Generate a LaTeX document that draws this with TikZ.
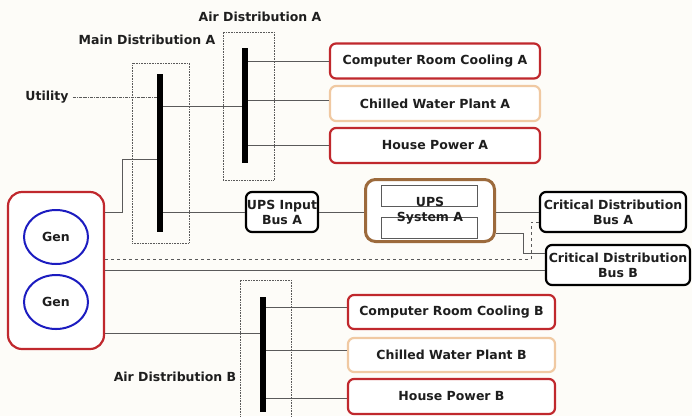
\documentclass[tikz,border=0pt]{standalone}
\usepackage{fontspec}
\setmainfont{DejaVu Sans}
\usepackage{xcolor}
\definecolor{cRed}{HTML}{C0282D}
\definecolor{cPeach}{HTML}{F0C9A2}
\definecolor{cBrown}{HTML}{9C6A3C}
\definecolor{cBlue}{HTML}{1C1CC0}
\definecolor{cWire}{HTML}{5A5A5A}
\definecolor{cText}{HTML}{1E1E1E}
\definecolor{cPaper}{HTML}{FDFCF8}
\usepackage{tikz}
\usetikzlibrary{positioning,shapes.geometric}
\tikzset{
  node-box/.style={draw,line width=2.2pt,rounded corners=6pt,fill=white,
    align=center,font=\bfseries\fontsize{12.5}{15}\selectfont,text=cText,inner sep=0pt},
  node-red/.style={draw=cRed},
  node-peach/.style={draw=cPeach},
  node-black/.style={draw=black},
  % sammelschiene: schwarzer balken, rahmen gepunktet
  node-bus/.style={fill=black,draw=none,minimum width=6pt,inner sep=0pt},
  node-frame/.style={draw=cWire,densely dotted,line width=0.6pt,inner sep=0pt},
  node-gen/.style={draw=cBlue,line width=2pt,ellipse,minimum width=64pt,
    minimum height=54pt,font=\bfseries\fontsize{12.5}{15}\selectfont,text=cText},
  node-label/.style={font=\bfseries\fontsize{12.5}{15}\selectfont,text=cText,inner sep=0pt},
  wire/.style={draw=cWire,line width=0.8pt},
  wire-dashed/.style={wire,dashed},
  wire-util/.style={wire,densely dash dot,line width=0.6pt},
}
\begin{document}
\begin{tikzpicture}[x=1pt,y=-1pt]
  \fill[cPaper] (0,0) rectangle (692,416);
  \useasboundingbox (0,0) rectangle (692,416);
  \node[node-frame,minimum width=57pt,minimum height=180pt] (mainfrm) at (160.5,153) {};
  \node[node-frame,minimum width=51pt,minimum height=148pt] (airAfrm) at (248.5,106) {};
  \node[node-frame,minimum width=51pt,minimum height=140pt] (airBfrm) at (265.5,350) {};
  \node[node-bus,minimum height=158pt] (mainbus) at (160,153) {};
  \node[node-bus,minimum height=115pt] (airAbus) at (245,105.5) {};
  \node[node-bus,minimum height=115pt] (airBbus) at (263,354.5) {};
  \node[node-label] (utility) at (47,97) {Utility};
  \node[node-label] (mainlbl) at (147,40) {Main Distribution A};
  \node[node-label] (airAlbl) at (260,17) {Air Distribution A};
  \node[node-label] (airBlbl) at (175,377) {Air Distribution B};
  \node[node-box,node-red,minimum width=210pt,minimum height=35pt]   (crcA) at (435,61)    {Computer Room Cooling A};
  \node[node-box,node-peach,minimum width=210pt,minimum height=35pt] (cwpA) at (435,103.5) {Chilled Water Plant A};
  \node[node-box,node-red,minimum width=210pt,minimum height=35pt]   (hpA)  at (435,145.5) {House Power A};
  \node[node-box,node-red,minimum width=207pt,minimum height=34pt]   (crcB) at (451.5,312) {Computer Room Cooling B};
  \node[node-box,node-peach,minimum width=207pt,minimum height=34pt] (cwpB) at (451.5,355) {Chilled Water Plant B};
  \node[node-box,node-red,minimum width=207pt,minimum height=35pt]   (hpB)  at (451.5,396.5) {House Power B};
  \node[node-box,node-red,rounded corners=14pt,minimum width=96pt,minimum height=157pt] (gens) at (56,270.5) {};
  \node[node-gen] (gen1) at (56,237) {Gen};
  \node[node-gen] (gen2) at (56,302) {Gen};
  \node[node-box,node-black,minimum width=72pt,minimum height=40pt] (upsin) at (282,212) {UPS Input\\Bus A};
  \node[node-box,draw=cBrown,line width=3pt,rounded corners=10pt,minimum width=129pt,minimum height=62pt] (upssys) at (430,210.5) {};
  \node[draw=cWire,line width=0.8pt,minimum width=96pt,minimum height=21pt] (upsr1) at (429,195.5) {};
  \node[draw=cWire,line width=0.8pt,minimum width=96pt,minimum height=21pt] (upsr2) at (429,227.5) {};
  \node[node-label,align=center,font=\bfseries\fontsize{12.5}{15}\selectfont] (upslbl) at (430,210.5) {UPS\\System A};
  \node[node-box,node-black,minimum width=146pt,minimum height=40pt] (critA) at (613,212) {Critical Distribution\\Bus A};
  \node[node-box,node-black,minimum width=144pt,minimum height=40pt] (critB) at (618,265) {Critical Distribution\\Bus B};
  \coordinate (tap)  at (122,159);
  \coordinate (jog)  at (523,233);
  \coordinate (djog) at (531,259);
  \draw[wire-util] ([xshift=4pt]utility.east) -- (utility.east -| mainbus.west);
  \draw[wire] ([yshift=-2.5pt]mainbus.east |- cwpA.west) -- ([yshift=-2.5pt]airAbus.west |- cwpA.west);
  \draw[wire] (airAbus.east |- crcA.west) -- (crcA.west);
  \draw[wire] ([yshift=3.5pt]airAbus.east |- cwpA.west) -- ([yshift=3.5pt]cwpA.west);
  \draw[wire] (airAbus.east |- hpA.west) -- (hpA.west);
  \draw[wire] (gens.east |- upsin.west) -| (tap) -- (tap -| mainbus.west);
  \draw[wire] (mainbus.east |- upsin.west) -- (upsin.west);
  \draw[wire] (upsin.east) -- (upsin.east -| upssys.west);
  \draw[wire] (upssys.east |- critA.west) -- (critA.west);
  \draw[wire] (upssys.east |- jog) -- (jog) |- ([yshift=12pt]critB.west);
  \draw[wire-dashed] (gens.east |- djog) -- (djog) |- ([yshift=-10pt]critA.west);
  \draw[wire] (gens.east) -- (gens.east -| critB.west);
  \draw[wire] ([yshift=-62.5pt]gens.east) -- ([yshift=-62.5pt]gens.east -| airBbus.west);
  \draw[wire] ([yshift=5pt]airBbus.east |- crcB.west) -- ([yshift=5pt]crcB.west);
  \draw[wire] ([yshift=5pt]airBbus.east |- cwpB.west) -- ([yshift=5pt]cwpB.west);
  \draw[wire] ([yshift=-1.5pt]airBbus.east |- hpB.west) -- ([yshift=-1.5pt]hpB.west);
\end{tikzpicture}
\end{document}
